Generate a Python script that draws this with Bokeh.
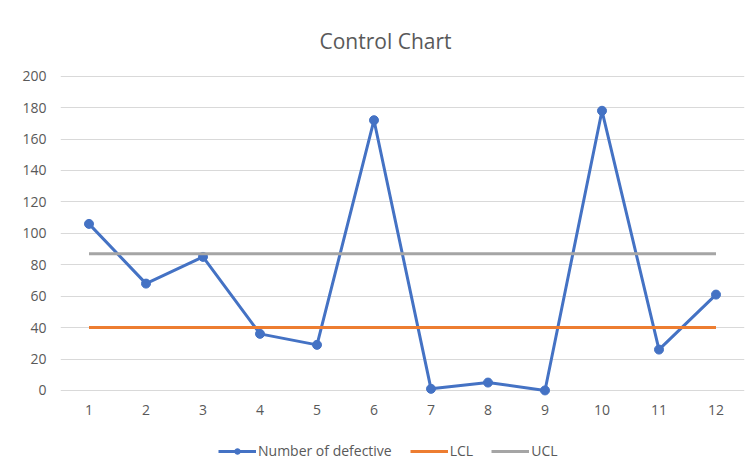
from bokeh.plotting import figure
from bokeh.models import Range1d, FixedTicker, Legend, LegendItem, ColumnDataSource
from bokeh.embed import file_html
from bokeh.resources import INLINE

samples = [1, 2, 3, 4, 5, 6, 7, 8, 9, 10, 11, 12]
defects = [106, 68, 85, 36, 29, 172, 1, 5, 0, 178, 26, 61]
lcl = [40, 40, 40, 40, 40, 40, 40, 40, 40, 40, 40, 40]
ucl = [87, 87, 87, 87, 87, 87, 87, 87, 87, 87, 87, 87]
y_ticks = [0, 20, 40, 60, 80, 100, 120, 140, 160, 180, 200]

FONT = "Open Sans"
TXT = "#595959"

src = ColumnDataSource(dict(x=samples, d=defects, lcl=lcl, ucl=ucl))

p = figure(width=756, height=476, output_backend="svg", toolbar_location=None,
           x_range=Range1d(0.5, 12.5), y_range=Range1d(-44.6, 203),
           title="Control Chart")
p.min_border_left = 60
p.min_border_right = 12
p.min_border_top = 71
p.min_border_bottom = 16
p.outline_line_color = None
p.background_fill_color = "white"
p.border_fill_color = "white"

p.title.align = "left"
p.title.offset = 259
p.title.text_font = FONT
p.title.text_font_size = "21px"
p.title.text_font_style = "normal"
p.title.text_color = TXT
p.title.standoff = 34

p.xaxis.ticker = FixedTicker(ticks=samples)
p.yaxis.ticker = FixedTicker(ticks=y_ticks)
for ax in (p.xaxis, p.yaxis):
    ax.axis_line_color = None
    ax.major_tick_line_color = None
    ax.minor_tick_line_color = None
    ax.major_tick_out = 0
    ax.major_tick_in = 0
    ax.major_label_text_font = FONT
    ax.major_label_text_font_size = "14px"
    ax.major_label_text_color = TXT
p.yaxis.major_label_standoff = 14
p.xaxis.major_label_standoff = 15
p.xaxis.fixed_location = 0

p.xgrid.grid_line_color = None
p.ygrid.grid_line_color = "#d9d9d9"
p.ygrid.grid_line_width = 1

r1 = p.line("x", "d", source=src, line_color="#4472C4", line_width=3)
m1 = p.scatter("x", "d", source=src, size=9, fill_color="#4472C4", line_color="#4472C4")
r2 = p.line("x", "lcl", source=src, line_color="#ED7D31", line_width=3)
r3 = p.line("x", "ucl", source=src, line_color="#A5A5A5", line_width=3)

legend = Legend(items=[
    LegendItem(label="Number of defective", renderers=[r1, m1]),
    LegendItem(label="LCL", renderers=[r2]),
    LegendItem(label="UCL", renderers=[r3]),
], orientation="horizontal", location=(158, 0))
legend.glyph_width = 38
legend.glyph_height = 14
legend.label_standoff = 2
legend.spacing = 18
legend.label_text_font = FONT
legend.label_text_font_size = "14px"
legend.label_text_color = TXT
legend.border_line_color = None
legend.background_fill_alpha = 0
legend.padding = 0
legend.margin = 0
p.add_layout(legend)

open("out.html", "w").write(file_html(p, INLINE))
